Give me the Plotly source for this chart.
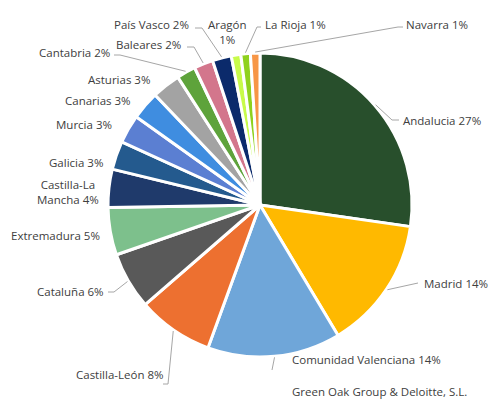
import math
import plotly.graph_objects as go

regions = ["Andalucia", "Madrid", "Comunidad Valenciana", "Castilla-León", "Cataluña",
           "Extremadura", "Castilla-La Mancha", "Galicia", "Murcia", "Canarias",
           "Asturias", "Cantabria", "Baleares", "País Vasco", "Aragón", "La Rioja", "Navarra"]
shares = [27, 14, 14, 8, 6, 5, 4, 3, 3, 3, 3, 2, 2, 2, 1, 1, 1]
colors = ["#284f2c", "#ffb900", "#6fa6d9", "#ed7030", "#595959",
          "#7dc08c", "#1f3a6b", "#245a8e", "#5b7fd2", "#3f8de0",
          "#a3a3a3", "#5ea33b", "#d3768c", "#0b2a6b", "#c8fb4a", "#8fd11e", "#f79646"]
source_note = "Green Oak Group & Deloitte, S.L."

W, H = 498, 399
CX, CY, R = 260, 205, 152

# label layout: (text, x, y, xanchor, leader-line waypoints in px)
label_layout = {
    "Andalucia": ("Andalucia 27%", 401, 120, "left", [(392, 120), (399, 120)]),
    "Madrid": ("Madrid 14%", 422, 283, "left", [(418, 283)]),
    "Comunidad Valenciana": ("Comunidad Valenciana 14%", 290, 359, "left", [(272, 370)]),
    "Castilla-León": ("Castilla-León 8%", 166, 374, "right", [(168, 384), (163, 384)]),
    "Cataluña": ("Cataluña 6%", 106, 291, "right", [(114, 292), (108, 292)]),
    "Extremadura": ("Extremadura 5%", 102, 235, "right", None),
    "Castilla-La Mancha": ("Castilla-La<br>Mancha 4%", 68, 192, "center", None),
    "Galicia": ("Galicia 3%", 105, 162, "right", None),
    "Murcia": ("Murcia 3%", 114, 124, "right", None),
    "Canarias": ("Canarias 3%", 133, 101, "right", None),
    "Asturias": ("Asturias 3%", 152, 79, "right", None),
    "Cantabria": ("Cantabria 2%", 112, 53, "right", [(120, 55), (114, 55)]),
    "Baleares": ("Baleares 2%", 183, 44, "right", [(194, 47), (187, 47)]),
    "País Vasco": ("País Vasco 2%", 191, 24, "right", [(202, 28), (195, 28)]),
    "Aragón": ("Aragón<br>1%", 227, 32, "center", None),
    "La Rioja": ("La Rioja 1%", 263, 24, "left", [(257, 27), (261, 27)]),
    "Navarra": ("Navarra 1%", 404, 24, "left", [(398, 27), (403, 27)]),
}

fig = go.Figure()
fig.add_trace(go.Pie(
    labels=regions, values=shares, sort=False, direction="clockwise", rotation=0,
    marker=dict(colors=colors, line=dict(color="white", width=3)),
    textinfo="none", hoverinfo="label+value",
    domain=dict(x=[(CX - R) / W, (CX + R) / W], y=[1 - (CY + R) / H, 1 - (CY - R) / H]),
    showlegend=False,
))

font = dict(family="Open Sans, Noto Sans, sans-serif", size=11.5, color="#404040")
total = sum(shares)
cum = 0
annotations = []
shapes = []
for name, v in zip(regions, shares):
    mid = (cum + v / 2) / total * 2 * math.pi
    cum += v
    text, lx, ly, xa, pts = label_layout[name]
    annotations.append(dict(text=text, x=lx / W, y=1 - ly / H, xref="paper", yref="paper",
                            xanchor=xa, yanchor="middle", showarrow=False, font=font, align="center"))
    if pts:
        ex = CX + (R + 1) * math.sin(mid)
        ey = CY - (R + 1) * math.cos(mid)
        path = f"M{ex / W},{1 - ey / H}" + "".join(f" L{px / W},{1 - py / H}" for px, py in pts)
        shapes.append(dict(type="path", path=path, xref="paper", yref="paper",
                           line=dict(color="#a6a6a6", width=1)))

annotations.append(dict(text=source_note, x=290 / W, y=1 - 391 / H, xref="paper", yref="paper",
                        xanchor="left", yanchor="middle", showarrow=False, font=font))

fig.update_layout(width=W, height=H, margin=dict(l=0, r=0, t=0, b=0),
                  paper_bgcolor="white", plot_bgcolor="white",
                  annotations=annotations, shapes=shapes)
fig.write_html("out.html", config={"displayModeBar": False},
               post_script="document.body.style.margin='0';document.body.style.overflow='hidden';")
